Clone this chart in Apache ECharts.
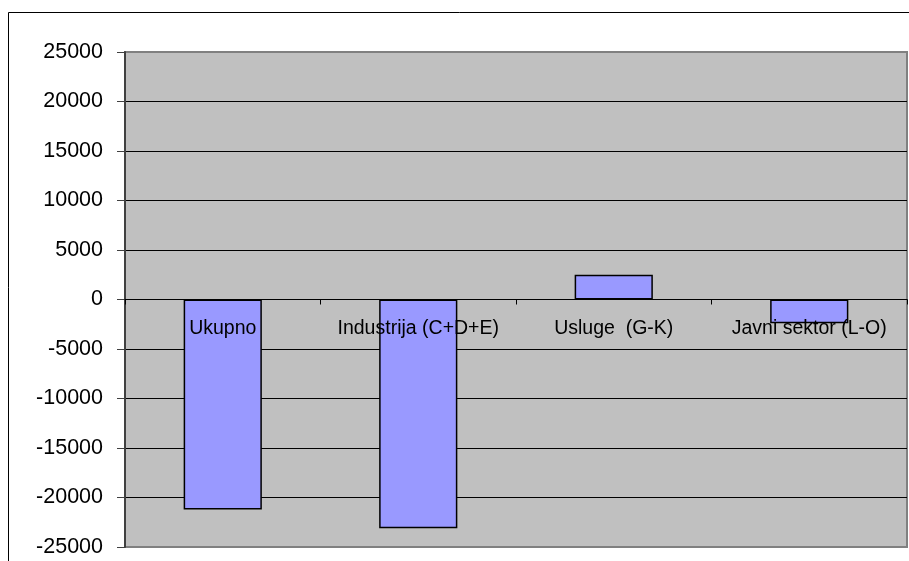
<!DOCTYPE html>
<html>
<head>
<meta charset="utf-8">
<script src="https://cdn.jsdelivr.net/npm/echarts@6/dist/echarts.min.js"></script>
<style>
  html, body { margin: 0; padding: 0; background: #fff; }
  #chart { width: 909px; height: 561px; }
</style>
</head>
<body>
<div id="chart"></div>
<script>
// Sectors and their change
const categories = ['Ukupno', 'Industrija (C+D+E)', 'Usluge  (G-K)', 'Javni sektor (L-O)'];
const values = [-21200, -23100, 2500, -2400];
const yTicks = { min: -25000, max: 25000, step: 5000 };

const W = 909, H = 561;
const gridBox = { left: 125, top: 52, right: 2, bottom: 14 };
const plotHeight = H - gridBox.top - gridBox.bottom;
// lift the category axis (line, ticks and labels) up to the zero line
const zeroOffset = -plotHeight * (0 - yTicks.min) / (yTicks.max - yTicks.min);

const chart = echarts.init(document.getElementById('chart'), null, { renderer: 'canvas' });

chart.setOption({
  animation: false,
  backgroundColor: '#ffffff',
  textStyle: { fontFamily: 'Arial, "Liberation Sans", sans-serif' },
  graphic: [
    {
      // outer chart frame
      type: 'rect',
      z: -10,
      shape: { x: 8.5, y: 12.5, width: 1000, height: 1000 },
      style: { fill: 'none', stroke: '#000', lineWidth: 1 }
    }
  ],
  grid: {
    left: gridBox.left,
    top: gridBox.top,
    right: gridBox.right,
    bottom: gridBox.bottom,
    containLabel: false,
    outerBoundsMode: 'none',
    show: true,
    backgroundColor: '#C0C0C0',
    borderColor: '#808080',
    borderWidth: 2
  },
  xAxis: {
    type: 'category',
    data: categories,
    z: 5,
    position: 'bottom',
    offset: zeroOffset,
    axisLine: { onZero: false, lineStyle: { color: '#000', width: 1 } },
    axisTick: { show: true, length: 5, lineStyle: { color: '#000' } },
    axisLabel: {
      color: '#000',
      fontSize: 19.5,
      margin: 19,
      interval: 0
    },
    splitLine: { show: false }
  },
  yAxis: {
    type: 'value',
    min: yTicks.min,
    max: yTicks.max,
    interval: yTicks.step,
    axisLine: { show: true, lineStyle: { color: '#404040', width: 2 } },
    axisTick: { show: true, length: 8, lineStyle: { color: '#404040' } },
    axisLabel: {
      color: '#000',
      fontSize: 21.5,
      margin: 22,
      formatter: (v) => String(v)
    },
    splitLine: {
      show: true,
      showMinLine: false,
      showMaxLine: false,
      lineStyle: { color: '#000', width: 1 }
    }
  },
  series: [
    {
      type: 'bar',
      data: values,
      barWidth: '40%',
      itemStyle: { color: '#9999FF', borderColor: '#000', borderWidth: 1.5 }
    }
  ]
});
</script>
</body>
</html>
